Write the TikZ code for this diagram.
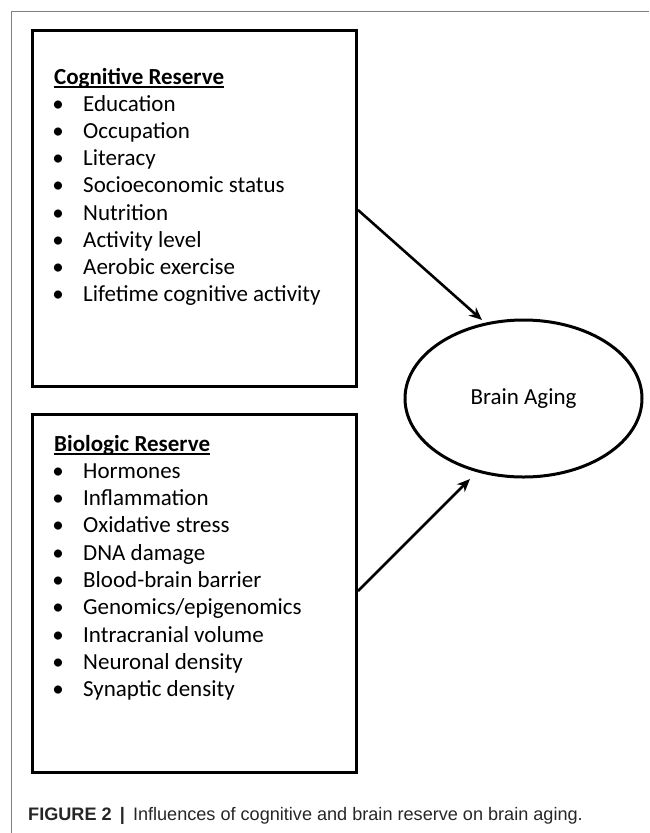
\documentclass[tikz,border=0pt]{standalone}
\usepackage{fontspec}
\setmainfont{Carlito}
\newfontfamily\capfont{Liberation Sans}
\usetikzlibrary{arrows.meta,shapes.geometric}
\begin{document}
\begin{tikzpicture}[x=1pt,y=-1pt,
  framel/.style={draw=black!50, line width=1pt},
  boxnode/.style={draw, line width=3pt, rectangle, minimum width=324pt, anchor=north west, inner sep=0pt},
  itemtext/.style={anchor=base west, inner sep=0pt, font=\fontsize{23}{27}\selectfont},
  bullettext/.style={anchor=base, inner sep=0pt, font=\fontsize{23}{27}\selectfont},
  headtext/.style={anchor=base west, inner sep=0pt, font=\fontsize{23}{27}\selectfont\bfseries},
  ulline/.style={line width=1.4pt},
  agingnode/.style={draw, ellipse, line width=3pt, minimum width=237pt, minimum height=157pt, inner sep=0pt, font=\fontsize{23}{27}\selectfont},
  arrowline/.style={line width=2.6pt, -{Stealth[length=13pt,width=11pt]}}
]
\useasboundingbox (0,0) rectangle (649,833);
% journal frame
\coordinate (ftl) at (11,11);
\coordinate (ftr) at (649,11);
\coordinate (fbl) at (11,833);
\draw[framel] (ftr) -- (ftl) -- (fbl);

% boxes
\node[boxnode, minimum height=356pt] (box1) at (31,29) {};
\node[boxnode, minimum height=358pt] (box2) at (31,413) {};

% cognitive reserve
\node[headtext] (ch) at (54,84) {Cognitive Reserve};
\draw[ulline] ([yshift=-3pt]ch.base west) -- ([yshift=-3pt]ch.base east);
\foreach \t [count=\i] in {Education,Occupation,Literacy,Socioeconomic status,Nutrition,Activity level,Aerobic exercise,Lifetime cognitive activity}{
  \node[bullettext] (cb\i) at (58,{84+27.2*\i}) {•};
  \node[itemtext] (c\i) at (83,{84+27.2*\i}) {\t};
}

% biologic reserve
\node[headtext] (bh) at (54,451) {Biologic Reserve};
\draw[ulline] ([yshift=-3pt]bh.base west) -- ([yshift=-3pt]bh.base east);
\foreach \t [count=\i] in {Hormones,Inflammation,Oxidative stress,DNA damage,Blood-brain barrier,Genomics/epigenomics,Intracranial volume,Neuronal density,Synaptic density}{
  \node[bullettext] (bb\i) at (58,{451+27.3*\i}) {•};
  \node[itemtext] (b\i) at (83,{451+27.3*\i}) {\t};
}

% brain aging
\node[agingnode] (aging) at (523.5,398.5) {Brain Aging};

% arrows
\coordinate (s1) at (box1.east |- 0,210);
\coordinate (t1) at (482,320);
\coordinate (s2) at (box2.east |- 0,591);
\coordinate (t2) at (470,479);
\draw[arrowline] (s1) -- (t1);
\draw[arrowline] (s2) -- (t2);

% caption
\node[anchor=base west, inner sep=0pt, text=black!85, font=\capfont\fontsize{18.1}{21}\selectfont] (cap) at (28,820)
  {\textbf{FIGURE 2}\hspace{0.45em}\textbf{|}\hspace{0.45em}Influences of cognitive and brain reserve on brain aging.};
\end{tikzpicture}
\end{document}
